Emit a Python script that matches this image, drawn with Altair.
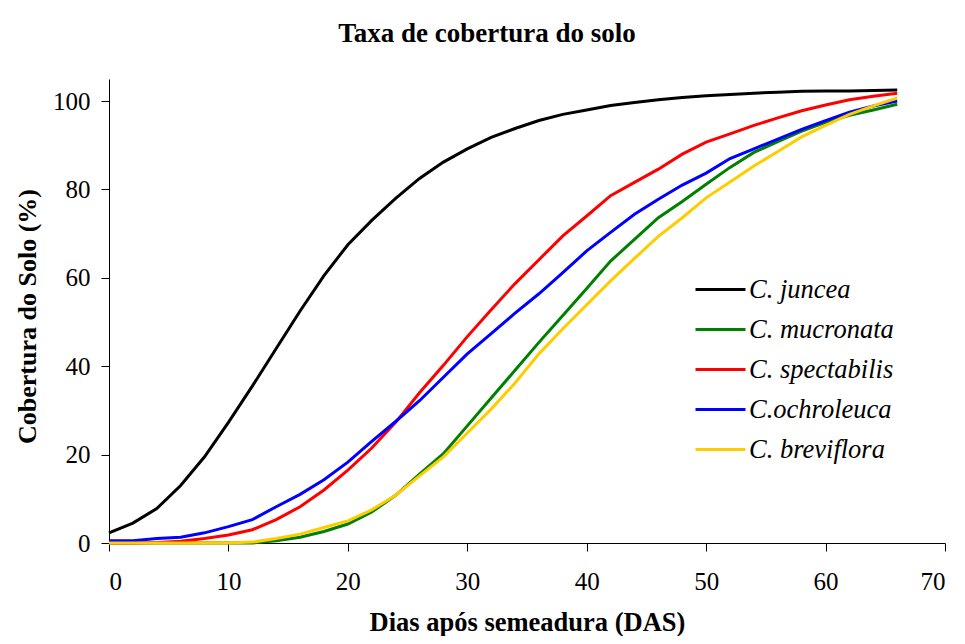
import altair as alt
import pandas as pd

days = list(range(0, 67, 2))

juncea = [2.3, 4.5, 7.8, 13, 19.5, 27.3, 35.5, 44, 52.5, 60.5, 67.5, 73, 78, 82.5,
          86.2, 89.2, 91.8, 93.8, 95.6, 97, 98, 99, 99.7, 100.3, 100.8, 101.2, 101.5,
          101.8, 102, 102.2, 102.3, 102.3, 102.4, 102.5]
mucronata = [0, 0, 0, 0, 0, 0, 0, 0.5, 1.3, 2.6, 4.3, 7, 10.8, 15.6, 20.2, 26.5, 32.8,
             39.1, 45.4, 51.5, 57.6, 63.8, 68.7, 73.6, 77.3, 81.2, 85, 88.4, 90.8, 93.2,
             95.2, 96.8, 98, 99.3]
spectabilis = [0, 0, 0.1, 0.4, 1, 1.8, 3, 5.3, 8.2, 12, 16.5, 21.5, 27.3, 34, 40.2, 46.7,
               52.8, 58.7, 64.1, 69.5, 74, 78.6, 81.6, 84.6, 88, 90.7, 92.6, 94.5, 96.2,
               97.8, 99.1, 100.3, 101.1, 101.8]
ochroleuca = [0.5, 0.5, 1.0, 1.3, 2.3, 3.7, 5.3, 8.2, 11, 14.3, 18.3, 23, 27.5, 32.2, 37.5,
              42.8, 47.4, 52, 56.4, 61.2, 66.1, 70.3, 74.4, 77.8, 81, 83.7, 87, 89.2, 91.4,
              93.6, 95.6, 97.5, 98.9, 100]
breviflora = [0, 0, 0, 0, 0, 0, 0.2, 1, 2, 3.5, 5, 7.5, 10.8, 15.2, 19.5, 24.9, 30.3, 36.2,
              42.8, 48.5, 53.9, 59.3, 64.4, 69.4, 73.6, 78.1, 81.7, 85.3, 88.6, 91.9, 94.5,
              97, 98.9, 100.7]

series_names = ["C. juncea", "C. mucronata", "C. spectabilis", "C.ochroleuca", "C. breviflora"]
series_values = [juncea, mucronata, spectabilis, ochroleuca, breviflora]
colors = ["#000000", "#008000", "#FF0000", "#0000FF", "#FFCC00"]

x_ticks = [0, 10, 20, 30, 40, 50, 60, 70]
y_ticks = [0, 20, 40, 60, 80, 100]

rows = []
for i, (name, vals) in enumerate(zip(series_names, series_values)):
    for d, v in zip(days, vals):
        rows.append({"dias": d, "cobertura": v, "serie": name, "ordem": i})
df = pd.DataFrame(rows)

FONT = "Liberation Serif"

axis_common = dict(
    grid=False,
    domainColor="black",
    domainWidth=1,
    tickColor="black",
    tickWidth=1,
    tickSize=8,
    labelFont=FONT,
    labelFontSize=25,
    labelColor="black",
    titleFont=FONT,
    titleFontWeight="bold",
    titleColor="black",
)

chart = alt.Chart(df).mark_line(strokeWidth=3).encode(
    x=alt.X(
        "dias:Q",
        scale=alt.Scale(domain=[0, 70], nice=False, zero=False),
        axis=alt.Axis(values=x_ticks, title="Dias após semeadura (DAS)",
                      labelPadding=18, titlePadding=15, titleFontSize=26.5,
                      **axis_common),
    ),
    y=alt.Y(
        "cobertura:Q",
        scale=alt.Scale(domain=[0, 105], nice=False),
        axis=alt.Axis(values=y_ticks, title="Cobertura do Solo (%)",
                      labelPadding=11, titlePadding=12, titleFontSize=26,
                      titleY=237, **axis_common),
    ),
    color=alt.Color(
        "serie:N",
        scale=alt.Scale(domain=series_names, range=colors),
        legend=alt.Legend(
            title=None,
            orient="none",
            legendX=585,
            legendY=184,
            symbolType="stroke",
            symbolSize=2500,
            symbolStrokeWidth=3,
            labelFont=FONT,
            labelFontStyle="italic",
            labelFontSize=26.5,
            labelColor="black",
            labelOffset=2,
            rowPadding=-11,
            padding=0,
        ),
    ),
    order=alt.Order("ordem:Q"),
).properties(
    width=836,
    height=464,
    title=alt.TitleParams(
        text="Taxa de cobertura do solo",
        font=FONT,
        fontSize=27,
        fontWeight="bold",
        color="black",
        anchor="middle",
        frame="group",
        baseline="alphabetic",
        offset=10,
        dx=-40,
    ),
    padding={"left": 101, "top": 71, "right": 12, "bottom": 93},
    autosize=alt.AutoSizeParams(type="none"),
).configure_view(stroke=None)

chart.save("out.html", embed_options={"renderer": "svg", "actions": False})
